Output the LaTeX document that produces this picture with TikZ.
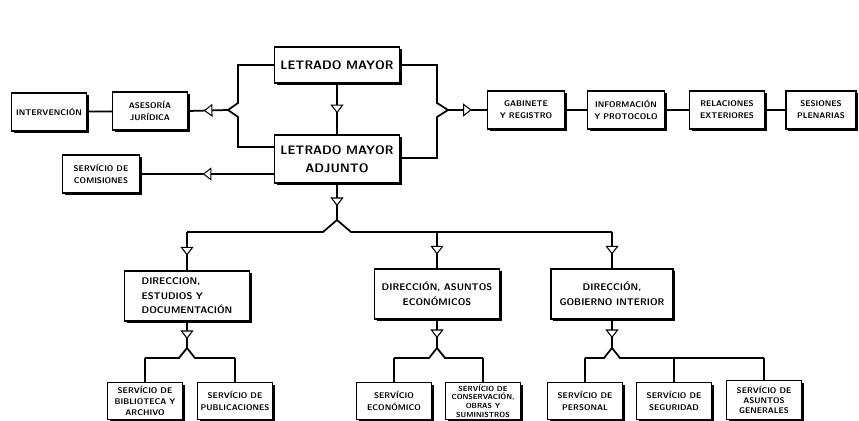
\documentclass[tikz,border=0pt]{standalone}
\usetikzlibrary{arrows.meta,decorations.markings,shadows}

\begin{document}
\begin{tikzpicture}[x=0.3mm, y=-0.3mm, line width=1.5pt,
    box/.style={draw, fill=white, line width=1.1pt, align=center, inner sep=1pt,
        font=\sffamily\bfseries\fontsize{7}{10.5}\selectfont,
        minimum width=22.5mm, minimum height=11.4mm,
        drop shadow={shadow xshift=1.8pt, shadow yshift=-1.8pt, fill=black, opacity=1}},
    bigbox/.style={box, minimum width=37.5mm, minimum height=15mm,
        font=\sffamily\bfseries\fontsize{8.2}{12.5}\selectfont},
    topbox/.style={box, minimum width=37.5mm,
        font=\sffamily\bfseries\fontsize{10.5}{15}\selectfont},
    midtri/.style={postaction={decorate}, decoration={markings,
        mark=at position 0.5 with {\arrow[xshift=1.3mm]{Triangle[fill=white, length=2.6mm, width=3.9mm, line width=0.9pt]}}}}]
        \useasboundingbox (0,0) rectangle (859,421);

        \node[topbox, minimum height=10.8mm] (lm) at (337,65) {LETRADO MAYOR};
        \node[topbox, minimum height=14.4mm] (lma) at (337,159) {LETRADO MAYOR\\ADJUNTO};

        \node[box] (ases) at (150,111) {ASESORÍA\\JURÍDICA};
        \node[box] (interv) at (49,112) {INTERVENCIÓN};
        \node[box, minimum width=23.1mm] (comis) at (101,174) {SERVÍCIO DE\\COMISIONES};

        \node[box, minimum width=23.1mm] (gab) at (526,110) {GABINETE\\Y REGISTRO};
        \node[box, minimum width=23.1mm] (info) at (626,110) {INFORMACIÓN\\Y PROTOCOLO};
        \node[box] (rel) at (727,110) {RELACIONES\\EXTERIORES};
        \node[box, minimum width=21mm] (ses) at (821,110) {SESIONES\\PLENARIAS};

        \node[bigbox, align=left] (dest) at (187,296) {DIRECCION,\\ESTUDIOS Y\\DOCUMENTACIÓN};
        \node[bigbox] (deco) at (437,294) {DIRECCIÓN, ASUNTOS\\ECONÓMICOS};
        \node[bigbox, minimum width=36.6mm] (dgob) at (612,294) {DIRECCIÓN,\\GOBIERNO INTERIOR};

        \node[box, minimum height=11mm, font=\sffamily\bfseries\fontsize{7}{9.5}\selectfont] (bibl) at (145,401) {SERVÍCIO DE\\BIBLIOTECA Y\\ARCHIVO};
        \node[box, minimum height=11mm] (publ) at (235,401) {SERVÍCIO DE\\PUBLICACIONES};
        \node[box, minimum height=11mm] (econ) at (394,401) {SERVÍCIO\\ECONÓMICO};
        \node[box, minimum height=11mm, font=\sffamily\bfseries\fontsize{6.3}{7.3}\selectfont] (cons) at (483,401) {SERVÍCIO DE\\CONSERVACIÓN,\\OBRAS Y\\SUMINISTROS};
        \node[box, minimum height=11mm] (pers) at (585,401) {SERVÍCIO DE\\PERSONAL};
        \node[box, minimum height=11mm] (segu) at (674,401) {SERVÍCIO DE\\SEGURIDAD};
        \node[box, minimum height=11.7mm, font=\sffamily\bfseries\fontsize{7}{8.8}\selectfont] (gen) at (764,400) {SERVÍCIO DE\\ASUNTOS\\GENERALES};

        % letrado mayor
        \draw[midtri] (lm) -- (lma);
        \draw (lm.west) -| (238,103) -- (228,110) coordinate (lnotch) -- (238,117) |- (lma.west |- 0,147);
        \draw (lm.east) -| (437,103) -- (448,110) coordinate (rnotch) -- (437,117) |- (lma.east |- 0,158);

        \draw[midtri] (lnotch) -- (ases.east);
        \draw (ases) -- (interv);
        \draw[midtri] (lma.west |- comis.east) -- (comis.east);

        \draw[midtri] (rnotch) -- (gab.west);
        \draw (gab) -- (info);
        \draw (info) -- (rel);
        \draw (rel) -- (ses);

        % direcciones
        \coordinate (fk) at (337,220);
        \draw[midtri] (lma) -- (fk);
        \draw (dest.north |- 0,232) -- (323,232) -- (fk) -- (351,232) -- (dgob.north |- 0,232);
        \draw[midtri] (dest.north |- 0,232) -- (dest);
        \draw[midtri] (deco.north |- 0,232) -- (deco);
        \draw[midtri] (dgob.north |- 0,232) -- (dgob);

        % servicios
        \coordinate (fka) at (187,348);
        \draw[midtri] (dest) -- (fka);
        \draw (bibl.north |- 0,358) -- (179,358) -- (fka) -- (195,358) -- (publ.north |- 0,358);
        \draw (bibl.north |- 0,358) -- (bibl);
        \draw (publ.north |- 0,358) -- (publ);

        \coordinate (fkb) at (437,348);
        \draw[midtri] (deco) -- (fkb);
        \draw (econ.north |- 0,358) -- (429,358) -- (fkb) -- (445,358) -- (cons.north |- 0,358);
        \draw (econ.north |- 0,358) -- (econ);
        \draw (cons.north |- 0,358) -- (cons);

        \coordinate (fkc) at (612,348);
        \draw[midtri] (dgob) -- (fkc);
        \draw (pers.north |- 0,358) -- (604,358) -- (fkc) -- (620,358) -- (gen.north |- 0,358);
        \draw (segu.north |- 0,358) -- (segu);
        \draw (pers.north |- 0,358) -- (pers);
        \draw (gen.north |- 0,358) -- (gen);
\end{tikzpicture}
\end{document}
